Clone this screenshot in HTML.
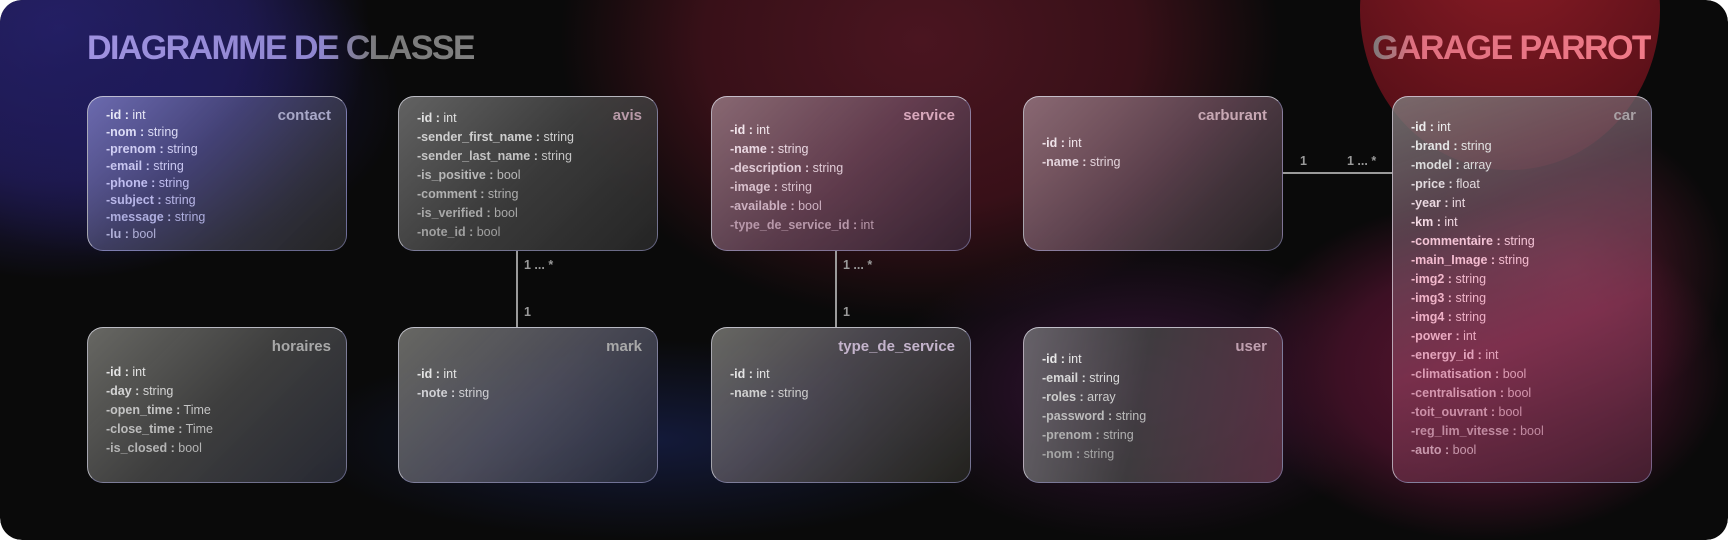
<!DOCTYPE html>
<html><head><meta charset="utf-8">
<style>
*{margin:0;padding:0;box-sizing:border-box}
html,body{width:1728px;height:540px;background:#fff;overflow:hidden;position:relative}
#c{position:absolute;left:0;top:0;width:1728px;height:540px;border-radius:22px;overflow:hidden;clip-path:inset(0 round 22px);background:#0a0a0a;font-family:"Liberation Sans",sans-serif}
.blob{position:absolute;border-radius:50%}
.t{position:absolute;font-weight:700;font-size:34px;letter-spacing:-1.6px;top:28px;line-height:40px;white-space:nowrap}
.box{position:absolute;width:260px;border-radius:16px;border:1.5px solid rgba(150,150,200,0.55);border-top-color:rgba(230,230,240,0.75);border-left-color:rgba(220,220,230,0.7);overflow:hidden}
.h{position:absolute;right:15px;font-size:15px;font-weight:600}
.f{position:absolute;left:18px;font-size:12.5px;white-space:nowrap;line-height:19px}
.f div b{font-weight:600}
.ln{position:absolute;background:#9a9a9a}
.lb{position:absolute;font-size:12.5px;color:#9a9a9a;font-weight:600}
</style></head><body>
<div id="c">
<div class="blob" style="left:-250px;top:-220px;width:620px;height:500px;background:radial-gradient(closest-side,#27226a,#1d1848 60%,rgba(20,16,40,0) 100%)"></div>
<div class="blob" style="left:-120px;top:-60px;width:520px;height:320px;background:radial-gradient(closest-side,rgba(30,26,90,0.9),rgba(20,16,60,0))"></div>
<div class="blob" style="left:560px;top:-240px;width:720px;height:560px;background:radial-gradient(closest-side,#4a1520,#381018 60%,rgba(40,10,20,0) 100%)"></div>
<div class="blob" style="left:880px;top:240px;width:520px;height:300px;background:radial-gradient(closest-side,rgba(60,20,60,0.9),rgba(40,15,40,0))"></div>
<div class="blob" style="left:1360px;top:-150px;width:300px;height:320px;background:radial-gradient(circle at 50% 30%,#8a1c26,#5a1018 75%,rgba(40,8,12,0) 100%)"></div>
<div class="blob" style="left:1240px;top:200px;width:488px;height:340px;background:radial-gradient(closest-side,#5a1530,#3c1024 60%,rgba(40,10,24,0) 100%)"></div>
<div class="blob" style="left:1420px;top:120px;width:308px;height:300px;background:radial-gradient(closest-side,rgba(120,30,60,0.7),rgba(80,20,40,0))"></div>
<div class="blob" style="left:300px;top:340px;width:700px;height:200px;background:radial-gradient(closest-side,rgba(22,30,70,0.8),rgba(15,20,50,0))"></div>

<div class="t" style="left:87px;background:linear-gradient(90deg,#9f92e0 0%,#8f86d0 60%,#7a7a7a 75%,#808080 100%);-webkit-background-clip:text;background-clip:text;color:transparent">DIAGRAMME DE CLASSE</div>
<div class="t" style="right:77px;background:linear-gradient(90deg,#7a7a7a 0%,#e07080 15%,#f07a88 100%);-webkit-background-clip:text;background-clip:text;color:transparent">GARAGE PARROT</div>

<div class="ln" style="left:516px;top:251px;width:1.5px;height:76px"></div>
<div class="lb" style="left:524px;top:258px">1 ... *</div>
<div class="lb" style="left:524px;top:305px">1</div>
<div class="ln" style="left:835px;top:251px;width:1.5px;height:76px"></div>
<div class="lb" style="left:843px;top:258px">1 ... *</div>
<div class="lb" style="left:843px;top:305px">1</div>
<div class="ln" style="left:1283px;top:172px;width:109px;height:1.5px"></div>
<div class="lb" style="left:1300px;top:154px">1</div>
<div class="lb" style="left:1347px;top:154px">1 ... *</div>

<div class="box" style="left:87px;top:96px;height:155px;background:linear-gradient(135deg,rgba(140,140,210,0.7),rgba(100,100,150,0.55) 40%,rgba(40,40,40,0.9))">
<div class="h" style="top:10px;color:#a8a8c8">contact</div>
<div class="f" style="top:10px;line-height:17px">
<div style="color:#e8e8f6"><b>-id :</b> int</div>
<div style="color:#dcdcf6"><b>-nom :</b> string</div>
<div style="color:#d0cef4"><b>-prenom :</b> string</div>
<div style="color:#c8c6f0"><b>-email :</b> string</div>
<div style="color:#c0bef0"><b>-phone :</b> string</div>
<div style="color:#b8b6e8"><b>-subject :</b> string</div>
<div style="color:#aeaedf"><b>-message :</b> string</div>
<div style="color:#b0b0d8"><b>-lu :</b> bool</div>
</div></div>

<div class="box" style="left:398px;top:96px;height:155px;background:linear-gradient(135deg,rgba(120,120,120,0.8),rgba(80,80,80,0.7) 50%,rgba(38,38,38,0.95))">
<div class="h" style="top:10px;color:#b89aa8">avis</div>
<div class="f" style="top:12px">
<div style="color:#e0e0e0"><b>-id :</b> int</div>
<div style="color:#cfcfcf"><b>-sender_first_name :</b> string</div>
<div style="color:#c4c4c4"><b>-sender_last_name :</b> string</div>
<div style="color:#b8b8b8"><b>-is_positive :</b> bool</div>
<div style="color:#b0b0b0"><b>-comment :</b> string</div>
<div style="color:#a8a8a8"><b>-is_verified :</b> bool</div>
<div style="color:#a0a0a0"><b>-note_id :</b> bool</div>
</div></div>

<div class="box" style="left:711px;top:96px;height:155px;background:linear-gradient(135deg,rgba(150,120,130,0.85),rgba(110,75,95,0.75) 50%,rgba(55,35,50,0.95))">
<div class="h" style="top:10px;color:#d8a8bc">service</div>
<div class="f" style="top:24px">
<div style="color:#f2e6ec"><b>-id :</b> int</div>
<div style="color:#ead8e2"><b>-name :</b> string</div>
<div style="color:#e0cbd6"><b>-description :</b> string</div>
<div style="color:#d8c0cc"><b>-image :</b> string</div>
<div style="color:#ccb0c0"><b>-available :</b> bool</div>
<div style="color:#b898aa"><b>-type_de_service_id :</b> int</div>
</div></div>

<div class="box" style="left:1023px;top:96px;height:155px;background:linear-gradient(135deg,rgba(150,120,130,0.85),rgba(110,80,95,0.75) 50%,rgba(40,36,38,0.95))">
<div class="h" style="top:10px;color:#c8a8b4">carburant</div>
<div class="f" style="top:37px">
<div style="color:#f0e4ea"><b>-id :</b> int</div>
<div style="color:#e4d4dc"><b>-name :</b> string</div>
</div></div>

<div class="box" style="left:1392px;top:96px;height:387px;background:linear-gradient(160deg,rgba(125,120,120,0.85),rgba(110,80,95,0.75) 30%,rgba(140,60,90,0.7) 60%,rgba(80,35,55,0.8))">
<div class="h" style="top:10px;color:#a8a0a4">car</div>
<div class="f" style="top:21px">
<div style="color:#eeeeee"><b>-id :</b> int</div>
<div style="color:#e4e4e4"><b>-brand :</b> string</div>
<div style="color:#dcdcdc"><b>-model :</b> array</div>
<div style="color:#e2dade"><b>-price :</b> float</div>
<div style="color:#ead8e0"><b>-year :</b> int</div>
<div style="color:#f2d8e2"><b>-km :</b> int</div>
<div style="color:#f4c4d6"><b>-commentaire :</b> string</div>
<div style="color:#f4bcd0"><b>-main_Image :</b> string</div>
<div style="color:#f2b8cc"><b>-img2 :</b> string</div>
<div style="color:#f0b4c8"><b>-img3 :</b> string</div>
<div style="color:#eeb0c6"><b>-img4 :</b> string</div>
<div style="color:#eaaac0"><b>-power :</b> int</div>
<div style="color:#e4a4bc"><b>-energy_id :</b> int</div>
<div style="color:#dc9cb4"><b>-climatisation :</b> bool</div>
<div style="color:#d496ae"><b>-centralisation :</b> bool</div>
<div style="color:#cc90a8"><b>-toit_ouvrant :</b> bool</div>
<div style="color:#c08aa0"><b>-reg_lim_vitesse :</b> bool</div>
<div style="color:#c898ac"><b>-auto :</b> bool</div>
</div></div>

<div class="box" style="left:87px;top:327px;height:156px;background:linear-gradient(135deg,rgba(120,120,115,0.85),rgba(80,80,80,0.75) 50%,rgba(40,42,52,0.95))">
<div class="h" style="top:10px;color:#a8a8a8">horaires</div>
<div class="f" style="top:35px">
<div style="color:#e4e4e4"><b>-id :</b> int</div>
<div style="color:#d4d4d4"><b>-day :</b> string</div>
<div style="color:#c4c4c4"><b>-open_time :</b> Time</div>
<div style="color:#bcbcbc"><b>-close_time :</b> Time</div>
<div style="color:#b4b4b4"><b>-is_closed :</b> bool</div>
</div></div>

<div class="box" style="left:398px;top:327px;height:156px;background:linear-gradient(135deg,rgba(120,120,115,0.85),rgba(95,95,110,0.75) 50%,rgba(38,42,58,0.95))">
<div class="h" style="top:10px;color:#a8a8a8">mark</div>
<div class="f" style="top:37px">
<div style="color:#e4e4e4"><b>-id :</b> int</div>
<div style="color:#d0d0d4"><b>-note :</b> string</div>
</div></div>

<div class="box" style="left:711px;top:327px;height:156px;background:linear-gradient(135deg,rgba(120,120,115,0.85),rgba(95,90,100,0.75) 40%,rgba(35,35,30,0.95))">
<div class="h" style="top:10px;color:#c4b4cc">type_de_service</div>
<div class="f" style="top:37px">
<div style="color:#e4e4e4"><b>-id :</b> int</div>
<div style="color:#d0d0d0"><b>-name :</b> string</div>
</div></div>

<div class="box" style="left:1023px;top:327px;height:156px;background:linear-gradient(100deg,rgba(115,112,118,0.85),rgba(70,70,70,0.8) 45%,rgba(100,55,75,0.8))">
<div class="h" style="top:10px;color:#c0a0b0">user</div>
<div class="f" style="top:22px">
<div style="color:#e8e8e8"><b>-id :</b> int</div>
<div style="color:#d8d8d8"><b>-email :</b> string</div>
<div style="color:#cccccc"><b>-roles :</b> array</div>
<div style="color:#bcbcbc"><b>-password :</b> string</div>
<div style="color:#b0b0b0"><b>-prenom :</b> string</div>
<div style="color:#a4a4a4"><b>-nom :</b> string</div>
</div></div>
</div>
</body></html>
